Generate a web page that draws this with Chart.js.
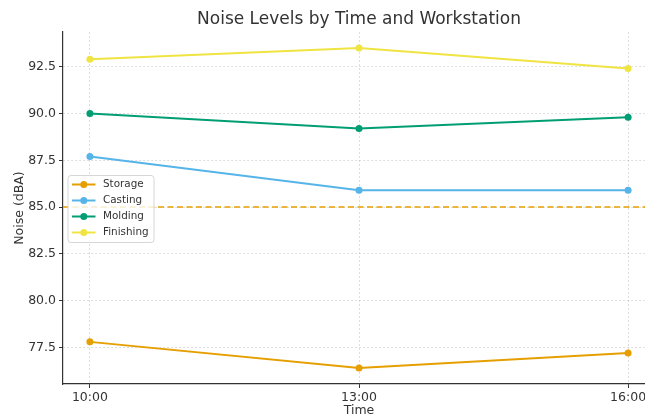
<!DOCTYPE html>
<html>
<head>
<meta charset="utf-8">
<script src="https://cdn.jsdelivr.net/npm/chart.js@4.4.1/dist/chart.umd.min.js"></script>
<style>
  html, body { margin: 0; padding: 0; background: #ffffff; overflow: hidden; }
  #wrap { width: 645px; height: 414px; overflow: hidden; position: relative; }
  canvas { display: block; }
</style>
</head>
<body>
<div id="wrap"><canvas id="c" width="700" height="418"></canvas></div>
<script>
const categories = ['10:00', '13:00', '16:00'];
const storage   = [77.8, 76.4, 77.2];
const casting   = [87.7, 85.9, 85.9];
const molding   = [90.0, 89.2, 89.8];
const finishing = [92.9, 93.5, 92.4];
const threshold = 85;
const yTickValues = [77.5, 80.0, 82.5, 85.0, 87.5, 90.0, 92.5];
const seriesNames = ['Storage', 'Casting', 'Molding', 'Finishing'];

const colors = ['#E69F00', '#56B4E9', '#009E73', '#F0E442'];
const FONT = "'DejaVu Sans', sans-serif";
const TEXT = '#333333';

const seriesValues = [storage, casting, molding, finishing];
const datasets = seriesNames.map((name, k) => ({
  label: name,
  data: seriesValues[k].map((v, i) => ({ x: i, y: v })),
  borderColor: colors[k],
  backgroundColor: colors[k],
  borderWidth: 2,
  pointRadius: 3.5,
  pointBorderWidth: 0,
  pointHoverRadius: 3.5,
  tension: 0,
  fill: false
}));

const titleCenterPlugin = {
  id: 'titleCenter',
  afterLayout(chart) {
    const t = chart.titleBlock;
    if (t) {
      t.left = chart.chartArea.left;
      t.right = chart.chartArea.right;
      t.width = t.right - t.left;
    }
  }
};

const thresholdPlugin = {
  id: 'threshold',
  beforeDatasetsDraw(chart) {
    const { ctx, chartArea, scales } = chart;
    const y = scales.y.getPixelForValue(threshold);
    ctx.save();
    ctx.strokeStyle = colors[0];
    ctx.lineWidth = 1.6;
    ctx.setLineDash([6, 3.5]);
    ctx.beginPath();
    ctx.moveTo(chartArea.left, y);
    ctx.lineTo(chartArea.right, y);
    ctx.stroke();
    ctx.restore();
  }
};

const legendPlugin = {
  id: 'innerLegend',
  afterDraw(chart) {
    const { ctx, chartArea } = chart;
    const left = chartArea.left + 4.5;
    const w = 86, h = 67;
    const cy = (chartArea.top + chartArea.bottom) / 2 + 0.5;
    const top = cy - h / 2;
    ctx.save();
    ctx.fillStyle = 'rgba(255,255,255,0.8)';
    ctx.strokeStyle = '#d6d6d6';
    ctx.lineWidth = 1;
    ctx.beginPath();
    ctx.roundRect(left + 0.5, top + 0.5, w, h, 3);
    ctx.fill();
    ctx.stroke();
    ctx.font = '10.4px ' + FONT;
    ctx.textBaseline = 'middle';
    ctx.textAlign = 'left';
    seriesNames.forEach((name, k) => {
      const yy = top + 9.5 + k * 16;
      ctx.strokeStyle = colors[k];
      ctx.lineWidth = 2;
      ctx.beginPath();
      ctx.moveTo(left + 4.5, yy);
      ctx.lineTo(left + 28, yy);
      ctx.stroke();
      ctx.fillStyle = colors[k];
      ctx.beginPath();
      ctx.arc(left + 16.3, yy, 3.5, 0, Math.PI * 2);
      ctx.fill();
      ctx.fillStyle = TEXT;
      ctx.fillText(name, left + 35.5, yy);
    });
    ctx.restore();
  }
};

new Chart(document.getElementById('c'), {
  type: 'line',
  data: { datasets },
  options: {
    responsive: false,
    animation: false,
    events: [],
    layout: { padding: { left: 0, right: 45, top: 0, bottom: 0 } },
    plugins: {
      legend: { display: false },
      tooltip: { enabled: false },
      title: {
        display: true,
        text: 'Noise Levels by Time and Workstation',
        color: TEXT,
        font: { family: FONT, size: 17, weight: 'normal' },
        padding: { top: 9.5, bottom: 2.1 }
      }
    },
    scales: {
      x: {
        type: 'linear',
        min: -0.1,
        max: 2.1,
        afterBuildTicks(scale) { scale.ticks = categories.map((c, i) => ({ value: i })); },
        afterFit(scale) { scale.height = 34; },
        ticks: {
          color: TEXT,
          font: { family: FONT, size: 12.5 },
          padding: 2,
          maxRotation: 0,
          autoSkip: false,
          callback: (v) => categories[v]
        },
        grid: {
          color: 'rgba(0,0,0,0.17)',
          lineWidth: 0.8,
          tickLength: 4,
          tickColor: '#333333',
          tickWidth: 1,
          tickBorderDash: []
        },
        border: { display: true, color: '#333333', width: 1.2, dash: [2, 2] },
        title: {
          display: true,
          text: 'Time',
          color: TEXT,
          font: { family: FONT, size: 12.5 },
          padding: { top: 0, bottom: 0 }
        }
      },
      y: {
        type: 'linear',
        min: 75.55,
        max: 94.35,
        afterBuildTicks(scale) { scale.ticks = yTickValues.map(v => ({ value: v })); },
        afterFit(scale) { scale.width = 63; },
        ticks: {
          color: TEXT,
          font: { family: FONT, size: 12.5 },
          padding: 3,
          callback: (v) => Number(v).toFixed(1)
        },
        grid: {
          color: 'rgba(0,0,0,0.17)',
          lineWidth: 0.8,
          tickLength: 4,
          tickColor: '#333333',
          tickWidth: 1,
          tickBorderDash: []
        },
        border: { display: true, color: '#333333', width: 1.2, dash: [2, 2] },
        title: {
          display: true,
          text: 'Noise (dBA)',
          color: TEXT,
          font: { family: FONT, size: 12.5 },
          padding: { top: 12, bottom: 0 }
        }
      }
    }
  },
  plugins: [titleCenterPlugin, thresholdPlugin, legendPlugin]
});
</script>
</body>
</html>
